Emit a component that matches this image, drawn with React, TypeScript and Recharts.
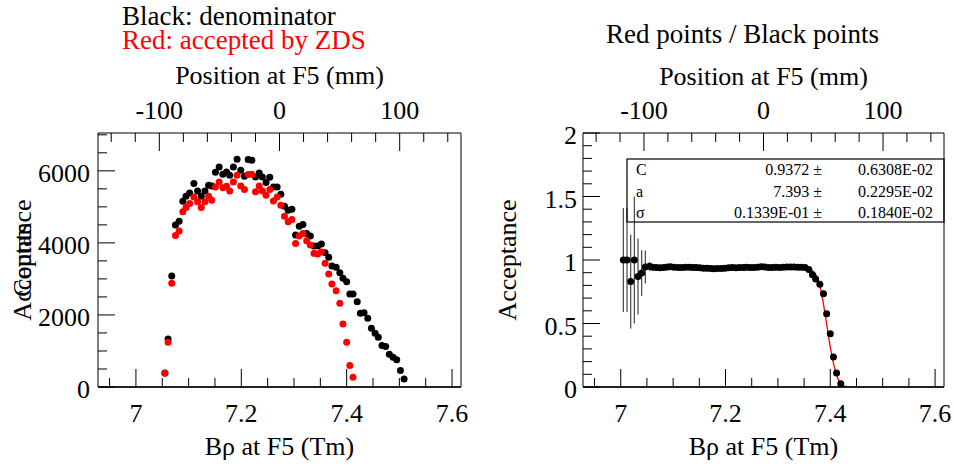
import React from 'react';
import { ComposedChart, Scatter, Line, XAxis, YAxis, ErrorBar, ReferenceArea } from 'recharts';

const FONT = '"Liberation Serif", "Times New Roman", Times, serif';

// ---------- Left panel: histogram points (Bρ bin centres, counts) ----------
const binsB = [
  7.055, 7.061, 7.068, 7.075, 7.082, 7.089, 7.095, 7.102, 7.110, 7.117,
  7.124, 7.131, 7.138, 7.144, 7.151, 7.158, 7.165, 7.172, 7.178, 7.185,
  7.192, 7.199, 7.206, 7.213, 7.220, 7.227, 7.234, 7.240, 7.247, 7.254,
  7.261, 7.268, 7.275, 7.282, 7.289, 7.296, 7.303, 7.310, 7.317, 7.324,
  7.331, 7.338, 7.345, 7.352, 7.359, 7.366, 7.372, 7.380, 7.387, 7.393,
  7.400, 7.406, 7.412, 7.420, 7.426, 7.433, 7.440, 7.447, 7.454, 7.460,
  7.467, 7.474, 7.481, 7.488, 7.495, 7.502, 7.509,
];
const denominator = [
  390, 1335, 3080, 4493, 4604, 5158, 5296, 5388, 5648, 5443,
  5296, 5443, 5601, 5582, 5961, 6108, 5906, 5970, 5878, 6108,
  6321, 6017, 5850, 6313, 6294, 5831, 5942, 5831, 5675, 5823,
  5554, 5554, 5352, 5019, 4909, 4937, 4216, 4465, 4512, 4263,
  4188, 3911, 3911, 3967, 3726, 3598, 3357, 3321, 3172, 3017,
  2923, 2582, 2582, 2368, 2047, 2064, 1909, 1632, 1493, 1382,
  1150, 1122, 911, 828, 753, 457, 219,
];
const accepted = [
  385, 1244, 2877, 4208, 4327, 4862, 4983, 5094, 5277, 5139,
  4983, 5139, 5296, 5186, 5554, 5693, 5527, 5573, 5443, 5693,
  5878, 5582, 5481, 5897, 5906, 5416, 5582, 5443, 5324, 5481,
  5166, 5277, 5047, 4742, 4585, 4651, 3986, 4188, 4263, 4058,
  3939, 3709, 3690, 3745, 3432, 3136, 2859, 2673, 2324, 1751,
  1244, 596, 274,
];

// ---------- Right panel: ratio points ----------
const ratioB = [
  7.005, 7.012, 7.019, 7.026, 7.033, 7.040, 7.047,
  7.055, 7.061, 7.068, 7.075, 7.082, 7.089, 7.095, 7.102, 7.110, 7.117,
  7.124, 7.131, 7.138, 7.144, 7.151, 7.158, 7.165, 7.172, 7.178, 7.185,
  7.192, 7.199, 7.206, 7.213, 7.220, 7.227, 7.234, 7.240, 7.247, 7.254,
  7.261, 7.268, 7.275, 7.282, 7.289, 7.296, 7.303, 7.310, 7.317, 7.324,
  7.331, 7.338, 7.345, 7.352, 7.359, 7.366, 7.372, 7.380, 7.387, 7.393,
  7.400, 7.406, 7.412, 7.420,
];
const ratio = [
  1.000, 1.000, 0.830, 1.000, 0.870, 0.897, 0.944,
  0.950, 0.942, 0.940, 0.938, 0.940, 0.944, 0.946, 0.942, 0.940, 0.941,
  0.943, 0.942, 0.940, 0.941, 0.938, 0.935, 0.936, 0.934, 0.932, 0.934,
  0.933, 0.935, 0.938, 0.940, 0.939, 0.941, 0.940, 0.942, 0.940, 0.941,
  0.943, 0.947, 0.944, 0.941, 0.940, 0.942, 0.941, 0.943, 0.945, 0.944,
  0.945, 0.943, 0.942, 0.940, 0.925, 0.884, 0.850, 0.810, 0.734, 0.577,
  0.420, 0.237, 0.110, 0.025,
];
const ratioErr = [
  0.41, 0.41, 0.37, 0.50, 0.30, 0.18, 0.13,
  0.035, 0.02, 0.015, 0.01, 0.01, 0.01, 0.01, 0.01, 0.01, 0.01,
  0.01, 0.01, 0.01, 0.01, 0.01, 0.01, 0.01, 0.01, 0.01, 0.01,
  0.01, 0.01, 0.01, 0.01, 0.01, 0.01, 0.01, 0.01, 0.01, 0.01,
  0.01, 0.01, 0.01, 0.01, 0.01, 0.01, 0.01, 0.01, 0.01, 0.01,
  0.01, 0.01, 0.01, 0.01, 0.012, 0.014, 0.015, 0.016, 0.017, 0.018,
  0.018, 0.016, 0.012, 0.008,
];

// fit curve
const fitB = [7.200, 7.250, 7.300, 7.340, 7.355, 7.362, 7.368, 7.374, 7.380, 7.385, 7.390, 7.395, 7.400, 7.405, 7.410, 7.415, 7.420, 7.425, 7.432, 7.440];
const fitR = [0.937, 0.937, 0.937, 0.936, 0.933, 0.925, 0.908, 0.870, 0.800, 0.700, 0.575, 0.445, 0.315, 0.205, 0.120, 0.062, 0.028, 0.011, 0.003, 0.000];

// fit parameters
const fitNames = ['C', 'a', 'σ'];
const fitValues = ['0.9372', '7.393', '0.1339E-01'];
const fitErrors = ['0.6308E-02', '0.2295E-02', '0.1840E-02'];

// ---------- ticks ----------
const xTicks = [6.95, 7, 7.05, 7.1, 7.15, 7.2, 7.25, 7.3, 7.35, 7.4, 7.45, 7.5, 7.55, 7.6];
const xLabels = [7, 7.2, 7.4, 7.6];
const mmTicks = [-140, -120, -100, -80, -60, -40, -20, 0, 20, 40, 60, 80, 100, 120, 140];
const mmLabels = [-100, 0, 100];
const countTicks = [0, 500, 1000, 1500, 2000, 2500, 3000, 3500, 4000, 4500, 5000, 5500, 6000, 6500, 7000];
const countLabels = [0, 2000, 4000, 6000];
const accTicks = [0, 0.1, 0.2, 0.3, 0.4, 0.5, 0.6, 0.7, 0.8, 0.9, 1, 1.1, 1.2, 1.3, 1.4, 1.5, 1.6, 1.7, 1.8, 1.9, 2];
const accLabels = [0, 0.5, 1, 1.5, 2];

const X_DOMAIN: [number, number] = [6.928, 7.617];
const MM_DOMAIN: [number, number] = [-151, 151];
const COUNT_DOMAIN: [number, number] = [0, 7050];
const ACC_DOMAIN: [number, number] = [0, 2];

const blackData = binsB.map((x, i) => ({ x, y: denominator[i] }));
const redData = accepted.map((y, i) => ({ x: binsB[i], y }));
const ratioData = ratioB.map((x, i) => ({ x, y: ratio[i], err: ratioErr[i] }));
const fitData = fitB.map((x, i) => ({ x, y: fitR[i] }));
// chart-level rows that only feed the secondary (position) axis
const mmAxisData = mmTicks.map((mm) => ({ mm }));

const near = (v: number, arr: number[]) => arr.some((a) => Math.abs(a - v) < 1e-6);
const TICK_FONT = 26;

function BottomTick(props: any) {
  const { x, y, payload } = props;
  const major = near(payload.value, xLabels);
  return (
    <g>
      <line x1={x} y1={y} x2={x} y2={y - (major ? 18 : 9)} stroke="#000" strokeWidth={1} />
      {major && (
        <text x={x} y={y + 35} textAnchor="middle" fontSize={TICK_FONT} fontFamily={FONT} fill="#000">
          {String(payload.value)}
        </text>
      )}
    </g>
  );
}

function TopTick(props: any) {
  const { x, y, payload } = props;
  const major = near(payload.value, mmLabels);
  return (
    <g>
      <line x1={x} y1={y} x2={x} y2={y + (major ? 18 : 9)} stroke="#000" strokeWidth={1} />
      {major && (
        <text x={x} y={y - 14} textAnchor="middle" fontSize={TICK_FONT} fontFamily={FONT} fill="#000">
          {String(payload.value)}
        </text>
      )}
    </g>
  );
}

const makeLeftTick = (labels: number[], gap: number) => (props: any) => {
  const { x, y, payload } = props;
  const major = near(payload.value, labels);
  return (
    <g>
      <line x1={x} y1={y} x2={x + (major ? 17 : 9)} y2={y} stroke="#000" strokeWidth={1} />
      {major && (
        <text x={x - gap} y={y + 11} textAnchor="end" fontSize={TICK_FONT} fontFamily={FONT} fill="#000">
          {String(payload.value)}
        </text>
      )}
    </g>
  );
};
const CountTick = makeLeftTick(countLabels, 8);
const AccTick = makeLeftTick(accLabels, 6);

const dot = (color: string) => (p: any) => <circle cx={p.cx} cy={p.cy} r={3.5} fill={color} />;

export default function App() {
  return (
    <div style={{ position: 'absolute', left: 0, top: 0, width: 954, height: 470, background: '#fff' }}>
      <div style={{ position: 'absolute', left: 0, top: 0 }}>
        <ComposedChart width={477} height={470} data={mmAxisData} margin={{ top: 93, right: 16, bottom: 43, left: 0 }}>
          <XAxis xAxisId="mm" dataKey="mm" orientation="top" type="number" domain={MM_DOMAIN} ticks={mmTicks} interval={0}
            height={40} tickSize={0} tickMargin={0} axisLine={false} tickLine={false} tick={TopTick} allowDataOverflow />
          <XAxis dataKey="x" type="number" domain={X_DOMAIN} ticks={xTicks} interval={0} height={40}
            tickSize={0} tickMargin={0} axisLine={{ stroke: '#222', strokeWidth: 2 }} tickLine={false} tick={BottomTick} allowDataOverflow />
          <YAxis dataKey="y" type="number" domain={COUNT_DOMAIN} ticks={countTicks} interval={0} width={98}
            tickSize={0} tickMargin={0} axisLine={false} tickLine={false} tick={CountTick} allowDataOverflow />
          <ReferenceArea x1={X_DOMAIN[0]} x2={X_DOMAIN[1]} y1={COUNT_DOMAIN[0]} y2={COUNT_DOMAIN[1]}
            fill="none" fillOpacity={0} stroke="#000" strokeWidth={1} ifOverflow="visible" />
          <Scatter data={blackData} dataKey="y" fill="#000" shape={dot('#000')} isAnimationActive={false} />
          <Scatter data={redData} dataKey="y" fill="#ff0000" shape={dot('#ff0000')} isAnimationActive={false} />
        </ComposedChart>
      </div>
      <div style={{ position: 'absolute', left: 477, top: 0 }}>
        <ComposedChart width={477} height={470} data={mmAxisData} margin={{ top: 93, right: 10, bottom: 43, left: 0 }}>
          <XAxis xAxisId="mm" dataKey="mm" orientation="top" type="number" domain={MM_DOMAIN} ticks={mmTicks} interval={0}
            height={40} tickSize={0} tickMargin={0} axisLine={false} tickLine={false} tick={TopTick} allowDataOverflow />
          <XAxis dataKey="x" type="number" domain={X_DOMAIN} ticks={xTicks} interval={0} height={40}
            tickSize={0} tickMargin={0} axisLine={{ stroke: '#222', strokeWidth: 2 }} tickLine={false} tick={BottomTick} allowDataOverflow />
          <YAxis dataKey="y" type="number" domain={ACC_DOMAIN} ticks={accTicks} interval={0} width={106}
            tickSize={0} tickMargin={0} axisLine={false} tickLine={false} tick={AccTick} allowDataOverflow />
          <ReferenceArea x1={X_DOMAIN[0]} x2={X_DOMAIN[1]} y1={ACC_DOMAIN[0]} y2={ACC_DOMAIN[1]}
            fill="none" fillOpacity={0} stroke="#000" strokeWidth={1} ifOverflow="visible" />
          <Scatter data={ratioData} dataKey="y" fill="#000" shape={dot('#000')} isAnimationActive={false}>
            <ErrorBar dataKey="err" direction="y" width={0} stroke="#444" strokeWidth={1.2} isAnimationActive={false} />
          </Scatter>
          <Line data={fitData} dataKey="y" type="monotone" stroke="#ff0000" strokeWidth={1.3} dot={false} isAnimationActive={false} />
        </ComposedChart>
      </div>
      <svg width={954} height={470} style={{ position: 'absolute', left: 0, top: 0, pointerEvents: 'none' }} fontFamily={FONT}>
        <text x={122} y={25} fontSize={27} fill="#000">Black: denominator</text>
        <text x={122} y={49} fontSize={27} fill="#ff0000">Red: accepted by ZDS</text>
        <text x={279.5} y={84} fontSize={26} textAnchor="middle" fill="#000">Position at F5 (mm)</text>
        <text x={279.5} y={455} fontSize={26} textAnchor="middle" fill="#000">Bρ at F5 (Tm)</text>
        <text x={31} y={260} fontSize={26} textAnchor="middle" fill="#000" transform="rotate(-90 31 260)">Acceptance</text>
        <text x={31} y={260} fontSize={26} textAnchor="middle" fill="#000" transform="rotate(-90 31 260)">Counts</text>

        <text x={606} y={43} fontSize={27} fill="#000">Red points / Black points</text>
        <text x={763.5} y={85} fontSize={26} textAnchor="middle" fill="#000">Position at F5 (mm)</text>
        <text x={763.5} y={455} fontSize={26} textAnchor="middle" fill="#000">Bρ at F5 (Tm)</text>
        <text x={516} y={260} fontSize={26} textAnchor="middle" fill="#000" transform="rotate(-90 516 260)">Acceptance</text>

        <rect x={627} y={159} width={317} height={63} fill="none" stroke="#000" strokeWidth={1.2} />
        {fitNames.map((n, i) => (
          <g key={n}>
            <text x={636} y={175 + i * 21.5} fontSize={16} fill="#000">{n}</text>
            <text x={822} y={175 + i * 21.5} fontSize={16} textAnchor="end" fill="#000">{fitValues[i] + ' ±'}</text>
            <text x={933} y={175 + i * 21.5} fontSize={16} textAnchor="end" fill="#000">{fitErrors[i]}</text>
          </g>
        ))}
      </svg>
    </div>
  );
}
